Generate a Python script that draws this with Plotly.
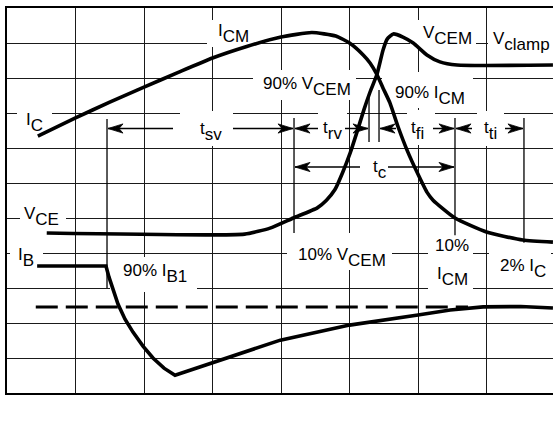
import plotly.graph_objects as go

# ---------------- data (grid units: x = time divisions, y = vertical divisions) ----------
ic_time = [0.45, 1.0, 1.5, 2.0, 2.5, 3.0, 3.5, 4.0, 4.45, 4.8, 5.0, 5.2, 5.3, 5.4, 5.49,
           5.59, 5.71, 5.84, 5.99, 6.13, 6.22, 6.54, 7.0, 7.53, 7.97]
ic_level = [7.34, 7.86, 8.31, 8.74, 9.16, 9.57, 9.9, 10.17, 10.3, 10.2, 10.0, 9.66, 9.43, 9.1, 8.71,
            8.29, 7.6, 6.94, 6.29, 5.74, 5.51, 5.0, 4.6, 4.37, 4.31]

vce_time = [0.58, 3.47, 3.84, 4.18, 4.53, 4.66, 4.79, 4.9, 5.01, 5.11, 5.21, 5.3, 5.4, 5.49,
            5.55, 5.64, 5.78, 5.93, 6.13, 6.32, 6.57, 7.97]
vce_level = [4.57, 4.54, 4.71, 5.0, 5.29, 5.5, 5.82, 6.3, 6.86, 7.46, 8.09, 8.6, 9.1, 9.8,
             10.11, 10.26, 10.17, 10.0, 9.66, 9.46, 9.37, 9.37]

ib_time = [0.44, 1.445, 1.489, 1.547, 1.62, 1.723, 1.839, 1.985, 2.131, 2.292, 2.453, 3.99, 5.0,
           6.0, 6.47, 6.95, 7.5, 7.97]
ib_level = [3.63, 3.63, 3.31, 2.94, 2.54, 2.11, 1.74, 1.34, 1.0, 0.71, 0.51, 1.51, 1.94,
            2.23, 2.37, 2.46, 2.47, 2.43]

ib1_time = [0.42, 6.73]
ib1_level = [2.46, 2.46]

edge_time = [1.46, 4.19, 5.285, 5.431, 6.54, 7.547]
edge_top = [7.83, 7.86, 8.57, 8.66, 7.86, 7.86]
edge_bottom = [3.0, 4.57, 7.17, 7.17, 4.51, 4.29]

interval_names = ["sv", "rv", "fi", "ti"]
interval_from = [0, 1, 3, 4]
interval_to = [1, 2, 4, 5]
tc_from, tc_to = 1, 4

# ---------------- layout geometry ----------------
W, H = 553, 432
L, T, B = 7, 8, 39
UX, VY = 68.5, 35.0
NROWS = 11
XMAX = (W - L) / UX


def u(px):
    return (px - L) / UX


def v(py):
    return (T + NROWS * VY - py) / VY


FONT = "Liberation Sans, Arial, Helvetica, sans-serif"


def sub(main, s):
    return f'{main}<span style="baseline-shift:-6px">{s}</span>'


fig = go.Figure()

# curves
for xs, ys, shape in [(ic_time, ic_level, "spline"), (vce_time, vce_level, "spline"),
                      (ib_time, ib_level, "linear")]:
    fig.add_trace(go.Scatter(x=xs, y=ys, mode="lines",
                             line=dict(color="black", width=3.6, shape=shape, smoothing=0.5),
                             hoverinfo="skip", showlegend=False))

fig.add_trace(go.Scatter(x=ib1_time, y=ib1_level, mode="lines",
                         line=dict(color="black", width=3, dash="22px,8px"),
                         hoverinfo="skip", showlegend=False))

# edge marker lines
mx, my = [], []
for t0, a, b in zip(edge_time, edge_top, edge_bottom):
    mx += [t0, t0, None]
    my += [a, b, None]
fig.add_trace(go.Scatter(x=mx, y=my, mode="lines", line=dict(color="black", width=1.3),
                         hoverinfo="skip", showlegend=False))

# arrows
ROW1 = v(128.5)
ROW2 = v(167)
gaps = {"sv": (173, 233), "rv": (318, 345), "fi": (396, 433), "ti": (472, 505), "c": (360, 388)}
ax, ay, hx, hy = [], [], [], []
HL, HW, NOTCH = 15 / UX, 4.6 / VY, 11 / UX


def head(tip, row, d):
    back = tip - d * HL
    return [tip, back, tip - d * NOTCH, back, tip, None], [row, row + HW, row, row - HW, row, None]


def arrow(i0, i1, row, gap):
    tl = edge_time[i0] + 1 / UX
    tr = edge_time[i1] - 1 / UX
    ax.extend([tl, u(gap[0]), None, u(gap[1]), tr, None])
    ay.extend([row, row, None, row, row, None])
    for tip, d in [(tl, -1), (tr, 1)]:
        px_, py_ = head(tip, row, d)
        hx.extend(px_)
        hy.extend(py_)


for name, i0, i1 in zip(interval_names, interval_from, interval_to):
    arrow(i0, i1, ROW1, gaps[name])
arrow(tc_from, tc_to, ROW2, gaps["c"])

fig.add_trace(go.Scatter(x=ax, y=ay, mode="lines", line=dict(color="black", width=1.5),
                         hoverinfo="skip", showlegend=False))
fig.add_trace(go.Scatter(x=hx, y=hy, mode="lines", fill="toself", fillcolor="black",
                         line=dict(color="black", width=0.8), hoverinfo="skip", showlegend=False))

# white label backgrounds (between grid and data)
boxes = [(207, 253, 20, 47), (410, 476, 20, 48), (488, 553, 30, 60), (253, 356, 70, 100),
         (382, 473, 72, 108), (17, 52, 108, 136), (180, 233, 111, 146), (318, 347, 111, 146),
         (407, 435, 110, 145), (477, 504, 111, 146), (20, 66, 203, 230), (10, 43, 244, 270),
         (110, 197, 257, 292), (287, 392, 233, 270), (428, 473, 235, 291), (489, 551, 246, 285)]
for x0, x1, y0, y1 in boxes:
    fig.add_shape(type="rect", xref="x", yref="y", x0=u(x0), x1=u(x1), y0=v(y1), y1=v(y0),
                  fillcolor="white", line=dict(width=0), layer="between")

labels = [
    (sub("I", "CM"), 233, 33.5), (sub("V", "CEM"), 447, 35), (sub("V", "clamp"), 521, 41),
    (sub("90% V", "CEM"), 307, 86.5), (sub("90% I", "CM"), 430, 95.5), (sub("I", "C"), 34, 122),
    (sub("t", "sv"), 211, 131), (sub("t", "rv"), 332, 130), (sub("t", "fi"), 417, 130),
    (sub("t", "ti"), 490, 130), (sub("t", "c"), 380, 169), (sub("V", "CE"), 41.5, 216),
    (sub("I", "B"), 25.5, 257.5), (sub("90% I", "B1"), 155, 273), (sub("10% V", "CEM"), 342, 257),
    ("10%", 452, 245.5), (sub("I", "CM"), 452, 276), (sub("2% I", "C"), 523, 268),
]
for text, cx, cy in labels:
    fig.add_annotation(x=u(cx), y=v(cy), xref="x", yref="y", text=text, showarrow=False,
                       xanchor="center", yanchor="middle",
                       font=dict(family=FONT, size=17, color="black"))

fig.add_annotation(x=u(281), y=v(418.5), xref="x", yref="y", text="TIME", showarrow=False,
                   xanchor="center", yanchor="middle", font=dict(family=FONT, size=16, color="black"))

fig.update_xaxes(range=[0, XMAX], dtick=1, tick0=0, showgrid=True, gridcolor="#1a1a1a", gridwidth=1,
                 showticklabels=False, ticks="", zeroline=False, showline=True, mirror=True,
                 linecolor="black", linewidth=2)
fig.update_yaxes(range=[0, NROWS], dtick=1, tick0=0, showgrid=True, gridcolor="#1a1a1a", gridwidth=1,
                 showticklabels=False, ticks="", zeroline=False, showline=True, mirror=False,
                 linecolor="black", linewidth=2)
fig.update_layout(width=W, height=H, margin=dict(l=L, r=0, t=T, b=B, pad=0),
                  paper_bgcolor="white", plot_bgcolor="white", showlegend=False)

fig.write_html("out.html", config={"displayModeBar": False},
               post_script="document.body.style.margin='0px';document.body.style.overflow='hidden';")
